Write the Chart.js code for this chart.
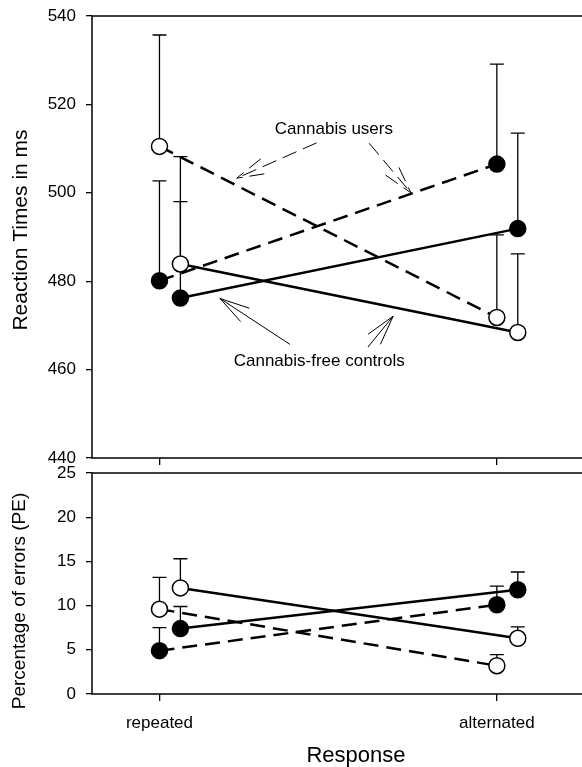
<!DOCTYPE html>
<html>
<head>
<meta charset="utf-8">
<script src="https://cdn.jsdelivr.net/npm/chart.js@4.4.0/dist/chart.umd.min.js"></script>
<style>
  html, body { margin: 0; padding: 0; background: #fff; overflow: hidden; }
  #wrap { position: relative; width: 582px; height: 767px; overflow: hidden; }
  canvas { position: absolute; left: 0; }
  #rt { top: 0; }
  #pe { top: 455px; }
</style>
</head>
<body>
<div id="wrap">
  <canvas id="rt" width="620" height="470"></canvas>
  <canvas id="pe" width="620" height="312"></canvas>
</div>
<script>
// categories on the x axis
const responses = ['repeated', 'alternated'];
// controls are drawn a little to the right of the users
const usersShift = 0;
const controlsShift = 0.062;

// reaction times (ms): means and upward standard error
const rtUsersFilled = [480.1, 506.5];
const rtUsersFilledSE = [22.6, 22.6];
const rtUsersOpen = [510.5, 471.8];
const rtUsersOpenSE = [25.2, 18.7];
const rtControlsFilled = [476.2, 491.9];
const rtControlsFilledSE = [21.8, 21.6];
const rtControlsOpen = [483.9, 468.4];
const rtControlsOpenSE = [24.3, 17.8];

// percentage of errors
const peUsersFilled = [4.9, 10.1];
const peUsersFilledSE = [2.6, 2.1];
const peUsersOpen = [9.6, 3.2];
const peUsersOpenSE = [3.6, 1.25];
const peControlsFilled = [7.4, 11.8];
const peControlsFilledSE = [2.5, 2.0];
const peControlsOpen = [12.0, 6.3];
const peControlsOpenSE = [3.3, 1.3];

// y ticks
const rtTicks = [440, 460, 480, 500, 520, 540];
const peTicks = [0, 5, 10, 15, 20, 25];

// annotation labels and arrows, in data units of the RT panel
const noteLabels = [
  { text: 'Cannabis users', x: 0.517, y: 514.4 },
  { text: 'Cannabis-free controls', x: 0.4735, y: 461.9 }
];
const noteArrows = [
  { from: [0.4657, 511.3], to: [0.2287, 503.3], dashed: true },
  { from: [0.6216, 511.2], to: [0.7452, 500.0], dashed: true },
  { from: [0.3867, 465.7], to: [0.1793, 476.1], dashed: false },
  { from: [0.6178, 465.1], to: [0.6927, 472.1], dashed: false }
];

const FONT = '"Liberation Sans", Arial, Helvetica, sans-serif';

function series(means, errs, shift) {
  return means.map((m, i) => ({ x: i + shift, y: m, se: errs[i] }));
}

function dataset(label, means, errs, shift, filled, dashed) {
  return {
    label: label,
    data: series(means, errs, shift),
    borderColor: '#000',
    borderWidth: 2.5,
    borderDash: dashed ? [15, 8] : [],
    pointRadius: 8,
    pointBorderWidth: 1.5,
    pointBorderColor: '#000',
    pointBackgroundColor: filled ? '#000' : '#fff',
    tension: 0
  };
}

// axes frame, no right side visible (it is cut off by the page)
const frame = {
  id: 'frame',
  beforeDatasetsDraw(chart) {
    const { ctx, chartArea: a } = chart;
    ctx.save();
    ctx.strokeStyle = '#000';
    ctx.lineWidth = 1.5;
    ctx.strokeRect(Math.round(a.left), Math.round(a.top), a.right - a.left, Math.round(a.bottom) - Math.round(a.top));
    ctx.restore();
  }
};

// upward error bars with caps
const errorBars = {
  id: 'errorBars',
  beforeDatasetsDraw(chart) {
    const { ctx, scales: { x, y } } = chart;
    ctx.save();
    ctx.strokeStyle = '#000';
    ctx.lineWidth = 1.3;
    chart.data.datasets.forEach(ds => {
      ds.data.forEach(p => {
        const px = x.getPixelForValue(p.x);
        const py = y.getPixelForValue(p.y);
        const pt = y.getPixelForValue(p.y + p.se);
        ctx.beginPath();
        ctx.moveTo(px, py);
        ctx.lineTo(px, pt);
        ctx.moveTo(px - 7, pt);
        ctx.lineTo(px + 7, pt);
        ctx.stroke();
      });
    });
    ctx.restore();
  }
};

// rotated y title, drawn by hand so it can sit off-centre like the original
const yTitle = {
  id: 'yTitle',
  afterDraw(chart, args, opts) {
    if (!opts.text) return;
    const ctx = chart.ctx;
    ctx.save();
    ctx.translate(opts.x, opts.y);
    ctx.rotate(-Math.PI / 2);
    ctx.font = opts.size + 'px ' + FONT;
    ctx.fillStyle = '#000';
    ctx.textAlign = 'center';
    ctx.textBaseline = 'middle';
    ctx.fillText(opts.text, 0, 0);
    ctx.restore();
  }
};

function arrowHead(ctx, x1, y1, x2, y2) {
  const ang = Math.atan2(y1 - y2, x1 - x2);
  const len = 31, spread = 0.26;
  ctx.moveTo(x2 + len * Math.cos(ang - spread), y2 + len * Math.sin(ang - spread));
  ctx.lineTo(x2, y2);
  ctx.lineTo(x2 + len * Math.cos(ang + spread), y2 + len * Math.sin(ang + spread));
}

const notes = {
  id: 'notes',
  afterDatasetsDraw(chart, args, opts) {
    if (!opts.labels) return;
    const { ctx, scales: { x, y } } = chart;
    ctx.save();
    ctx.fillStyle = '#000';
    ctx.font = '17px ' + FONT;
    ctx.textAlign = 'center';
    ctx.textBaseline = 'middle';
    opts.labels.forEach(l => ctx.fillText(l.text, x.getPixelForValue(l.x), y.getPixelForValue(l.y)));
    ctx.strokeStyle = '#000';
    ctx.lineWidth = 1;
    opts.arrows.forEach(a => {
      const x1 = x.getPixelForValue(a.from[0]), y1 = y.getPixelForValue(a.from[1]);
      const x2 = x.getPixelForValue(a.to[0]), y2 = y.getPixelForValue(a.to[1]);
      ctx.setLineDash(a.dashed ? [15, 7] : []);
      ctx.beginPath();
      ctx.moveTo(x1, y1);
      ctx.lineTo(x2, y2);
      arrowHead(ctx, x1, y1, x2, y2);
      ctx.stroke();
    });
    ctx.restore();
  }
};

function scales(yTicks, xHeight, showLabels) {
  return {
    x: {
      type: 'linear',
      min: -0.2,
      max: 1.365,
      afterBuildTicks: a => { a.ticks = responses.map((r, i) => ({ value: i })); },
      afterFit: a => { a.height = xHeight; },
      grid: { drawOnChartArea: false, drawTicks: true, tickLength: 7, color: '#000', lineWidth: 1.3 },
      border: { display: false },
      ticks: {
        display: showLabels,
        autoSkip: false,
        maxRotation: 0,
        padding: 12,
        color: '#000',
        font: { family: FONT, size: 17 },
        callback: v => responses[v]
      },
      title: {
        display: showLabels,
        text: 'Response',
        color: '#000',
        font: { family: FONT, size: 22 },
        padding: { top: 0, bottom: -2 }
      }
    },
    y: {
      min: yTicks[0],
      max: yTicks[yTicks.length - 1],
      afterBuildTicks: a => { a.ticks = yTicks.map(v => ({ value: v })); },
      // fixed width, and no extra room reserved for the end labels
      afterFit: a => { a.width = 92; a.paddingTop = 0; a.paddingBottom = 0; },
      grid: { drawOnChartArea: false, drawTicks: true, tickLength: 6, color: '#000', lineWidth: 1.3 },
      border: { display: false },
      ticks: { padding: 10, color: '#000', font: { family: FONT, size: 17 } }
    }
  };
}

new Chart(document.getElementById('rt').getContext('2d'), {
  type: 'line',
  data: {
    datasets: [
      dataset('Cannabis users', rtUsersOpen, rtUsersOpenSE, usersShift, false, true),
      dataset('Cannabis users', rtUsersFilled, rtUsersFilledSE, usersShift, true, true),
      dataset('Cannabis-free controls', rtControlsOpen, rtControlsOpenSE, controlsShift, false, false),
      dataset('Cannabis-free controls', rtControlsFilled, rtControlsFilledSE, controlsShift, true, false)
    ]
  },
  options: {
    responsive: false,
    animation: false,
    layout: { autoPadding: false, padding: { top: 16, left: 0, right: 0, bottom: 0 } },
    plugins: {
      legend: { display: false },
      tooltip: { enabled: false },
      yTitle: { text: 'Reaction Times in ms', size: 21, x: 21, y: 230 },
      notes: { labels: noteLabels, arrows: noteArrows }
    },
    scales: scales(rtTicks, 12, false)
  },
  plugins: [frame, errorBars, yTitle, notes]
});

new Chart(document.getElementById('pe').getContext('2d'), {
  type: 'line',
  data: {
    datasets: [
      dataset('Cannabis users', peUsersOpen, peUsersOpenSE, usersShift, false, true),
      dataset('Cannabis users', peUsersFilled, peUsersFilledSE, usersShift, true, true),
      dataset('Cannabis-free controls', peControlsOpen, peControlsOpenSE, controlsShift, false, false),
      dataset('Cannabis-free controls', peControlsFilled, peControlsFilledSE, controlsShift, true, false)
    ]
  },
  options: {
    responsive: false,
    animation: false,
    layout: { autoPadding: false, padding: { top: 18, left: 0, right: 0, bottom: 0 } },
    plugins: {
      legend: { display: false },
      tooltip: { enabled: false },
      yTitle: { text: 'Percentage of errors (PE)', size: 19, x: 20, y: 146 }
    },
    scales: scales(peTicks, 73, true)
  },
  plugins: [frame, errorBars, yTitle]
});
</script>
</body>
</html>
